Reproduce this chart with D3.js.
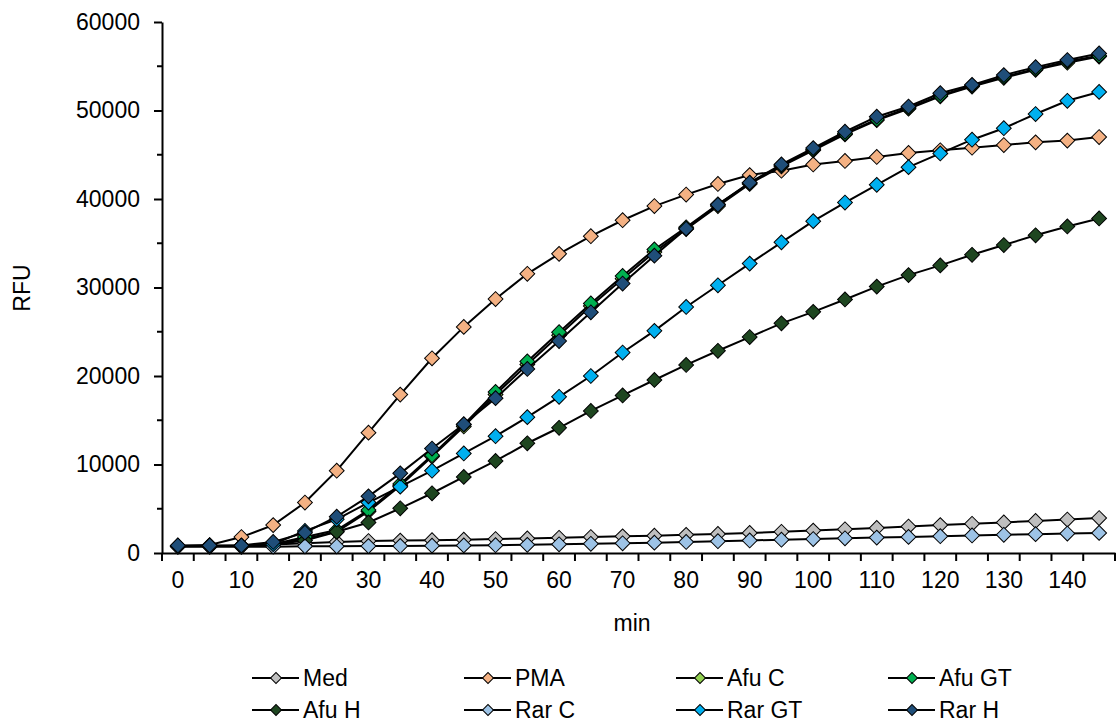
<!DOCTYPE html>
<html>
<head>
<meta charset="utf-8">
<script src="https://cdn.jsdelivr.net/npm/d3@7"></script>
<style>
  body { margin: 0; background: #fff; }
  svg text { font-family: "Liberation Sans", Arial, sans-serif; fill: #000; }
</style>
</head>
<body>
<script>
// time points (min) and the series
const minutes = [0, 5, 10, 15, 20, 25, 30, 35, 40, 45, 50, 55, 60, 65, 70, 75, 80, 85, 90, 95, 100, 105, 110, 115, 120, 125, 130, 135, 140, 145];
const seriesNames = ["Med", "PMA", "Afu C", "Afu GT", "Afu H", "Rar C", "Rar GT", "Rar H"];
const seriesColors = ["#bfbfbf", "#f4b183", "#92d050", "#00b050", "#1e4620", "#9dc3e6", "#00b0f0", "#1f4e79"];

const med   = [750, 800, 850, 950, 1100, 1250, 1350, 1400, 1450, 1500, 1580, 1650, 1720, 1800, 1880, 1960, 2050, 2150, 2270, 2400, 2530, 2680, 2830, 2990, 3150, 3300, 3460, 3620, 3780, 3950];
const pma   = [800, 900, 1800, 3150, 5700, 9300, 13600, 17900, 22000, 25550, 28700, 31550, 33800, 35800, 37600, 39200, 40500, 41700, 42700, 43200, 43900, 44300, 44750, 45200, 45500, 45800, 46100, 46400, 46600, 47000];
const afuC  = [780, 780, 780, 950, 1600, 2400, 4700, 7600, 10900, 14300, 17900, 21300, 24600, 27900, 31000, 34000, 36600, 39200, 41700, 43700, 45500, 47300, 48900, 50200, 51600, 52700, 53700, 54600, 55400, 56100];
const afuGT = [800, 800, 800, 1000, 1800, 2600, 4850, 7800, 11050, 14500, 18200, 21650, 24950, 28200, 31300, 34300, 36800, 39400, 41800, 43800, 45600, 47400, 49000, 50300, 51700, 52800, 53800, 54700, 55550, 56200];
const afuH  = [800, 800, 800, 950, 1400, 2400, 3450, 5050, 6750, 8600, 10400, 12400, 14150, 16050, 17800, 19550, 21250, 22850, 24400, 25950, 27250, 28650, 30100, 31400, 32500, 33700, 34800, 35900, 36900, 37800];
const rarC  = [700, 700, 700, 720, 750, 760, 780, 800, 830, 860, 880, 920, 980, 1040, 1100, 1170, 1250, 1330, 1420, 1500, 1580, 1660, 1740, 1820, 1900, 1980, 2060, 2130, 2200, 2270];
const rarGT = [800, 800, 800, 1000, 2500, 3800, 5700, 7500, 9300, 11250, 13200, 15350, 17650, 20000, 22650, 25100, 27800, 30250, 32700, 35100, 37500, 39600, 41600, 43600, 45150, 46700, 48000, 49600, 51100, 52100];
const rarH  = [850, 850, 850, 1250, 2300, 4100, 6400, 9000, 11800, 14550, 17500, 20800, 23950, 27200, 30450, 33600, 36650, 39350, 41850, 43900, 45750, 47600, 49300, 50450, 51950, 52900, 54000, 54900, 55700, 56450];

const yTicks = [0, 10000, 20000, 30000, 40000, 50000, 60000];
const yMinorTicks = [5000, 15000, 25000, 35000, 45000, 55000];
const xLabels = [0, 10, 20, 30, 40, 50, 60, 70, 80, 90, 100, 110, 120, 130, 140];

const allValues = [med, pma, afuC, afuGT, afuH, rarC, rarGT, rarH];

const W = 1118, H = 722;
const plot = { left: 162, right: 1115, top: 22, bottom: 553 };
const fontSize = 23;

const svg = d3.select("body").append("svg")
    .attr("width", W)
    .attr("height", H);

const x = d3.scaleBand()
    .domain(minutes)
    .range([plot.left, plot.right])
    .padding(0);
const y = d3.scaleLinear()
    .domain([0, 60000])
    .range([plot.bottom, plot.top]);
const cx = m => x(m) + x.bandwidth() / 2;

// y axis
const yAxis = svg.append("g")
    .attr("transform", "translate(" + plot.left + ",0)")
    .call(d3.axisLeft(y).tickValues(yTicks).tickFormat(d3.format("d"))
        .tickSize(8).tickSizeOuter(0).tickPadding(14));
yAxis.attr("font-size", fontSize).attr("font-family", null);
yAxis.select(".domain").attr("stroke-width", 2);
yAxis.selectAll(".tick line").attr("stroke-width", 2);
svg.append("g").selectAll("line").data(yMinorTicks).join("line")
    .attr("x1", plot.left - 5).attr("x2", plot.left)
    .attr("y1", d => y(d)).attr("y2", d => y(d))
    .attr("stroke", "#000").attr("stroke-width", 2);

// x axis: labels at category centres, ticks between categories
const xAxis = svg.append("g")
    .attr("transform", "translate(0," + plot.bottom + ")")
    .call(d3.axisBottom(x).tickValues(xLabels).tickSize(0).tickPadding(19));
xAxis.attr("font-size", fontSize).attr("font-family", null);
xAxis.select(".domain").attr("stroke-width", 2);
const boundaries = minutes.map(m => x(m)).concat([plot.right]);
svg.append("g").selectAll("line").data(boundaries).join("line")
    .attr("x1", d => d).attr("x2", d => d)
    .attr("y1", plot.bottom).attr("y2", plot.bottom + 8)
    .attr("stroke", "#000").attr("stroke-width", 2);

// axis titles
svg.append("text")
    .attr("transform", "translate(30,288) rotate(-90)")
    .attr("text-anchor", "middle")
    .attr("font-size", fontSize)
    .text("RFU");
svg.append("text")
    .attr("x", 632).attr("y", 631)
    .attr("text-anchor", "middle")
    .attr("font-size", fontSize)
    .text("min");

// series
const line = d3.line()
    .x((d, i) => cx(minutes[i]))
    .y(d => y(d));
const diamond = d3.symbol().type(d3.symbolSquare).size(110);

allValues.forEach(function (vals, s) {
    const g = svg.append("g");
    g.append("path")
        .datum(vals)
        .attr("fill", "none")
        .attr("stroke", "#000")
        .attr("stroke-width", 2)
        .attr("d", line);
    g.selectAll("path.pt").data(vals).join("path")
        .attr("class", "pt")
        .attr("d", diamond)
        .attr("transform", (d, i) => "translate(" + cx(minutes[i]) + "," + y(d) + ") rotate(45)")
        .attr("fill", seriesColors[s])
        .attr("stroke", "#000")
        .attr("stroke-width", 1);
});

// legend, 4 columns x 2 rows
const legendMarker = d3.symbol().type(d3.symbolSquare).size(60);
const legend = svg.append("g");
seriesNames.forEach(function (name, i) {
    const mx = 276 + (i % 4) * 212;
    const my = 678 + Math.floor(i / 4) * 32;
    const item = legend.append("g").attr("transform", "translate(" + mx + "," + my + ")");
    item.append("line")
        .attr("x1", -24).attr("x2", 23)
        .attr("stroke", "#000").attr("stroke-width", 2);
    item.append("path")
        .attr("d", legendMarker)
        .attr("transform", "rotate(45)")
        .attr("fill", seriesColors[i])
        .attr("stroke", "#000")
        .attr("stroke-width", 1);
    item.append("text")
        .attr("x", 27).attr("y", 8)
        .attr("font-size", fontSize)
        .text(name);
});
</script>
</body>
</html>
